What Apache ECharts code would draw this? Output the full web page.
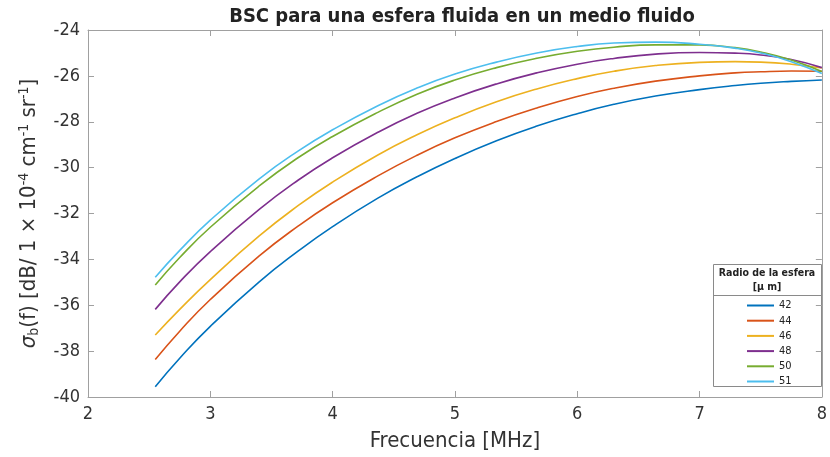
<!DOCTYPE html>
<html>
<head>
<meta charset="utf-8">
<script src="https://cdn.jsdelivr.net/npm/echarts@6/dist/echarts.min.js"></script>
<style>html,body{margin:0;padding:0;background:#fff}#c{width:830px;height:457px}</style>
</head>
<body>
<div id="c"></div>
<script>
const freq = [2.55, 2.75, 3.0, 3.4, 3.72, 4.0, 4.37, 4.69, 5.0, 5.34, 5.67, 6.0, 6.3, 6.64, 7.0, 7.29, 7.5, 7.75, 8.0];
const radios = ['42', '44', '46', '48', '50', '51'];
const r42 = [-39.55, -38.31, -36.92, -34.98, -33.63, -32.57, -31.33, -30.4, -29.6, -28.83, -28.19, -27.65, -27.24, -26.88, -26.6, -26.42, -26.32, -26.24, -26.18];
const r44 = [-38.37, -37.13, -35.75, -33.85, -32.54, -31.53, -30.36, -29.46, -28.7, -27.99, -27.4, -26.9, -26.54, -26.23, -26.0, -25.87, -25.82, -25.79, -25.8];
const r46 = [-37.3, -36.18, -34.88, -32.98, -31.65, -30.63, -29.45, -28.57, -27.83, -27.13, -26.57, -26.12, -25.8, -25.55, -25.41, -25.38, -25.4, -25.49, -25.66];
const r48 = [-36.18, -34.98, -33.66, -31.82, -30.54, -29.57, -28.46, -27.63, -26.96, -26.35, -25.87, -25.49, -25.24, -25.05, -24.98, -25.01, -25.09, -25.29, -25.64];
const r50 = [-35.12, -33.92, -32.6, -30.8, -29.56, -28.64, -27.59, -26.8, -26.18, -25.64, -25.23, -24.93, -24.75, -24.65, -24.65, -24.77, -24.96, -25.31, -25.81];
const r51 = [-34.78, -33.61, -32.29, -30.49, -29.27, -28.35, -27.3, -26.53, -25.92, -25.4, -25.0, -24.72, -24.57, -24.53, -24.62, -24.79, -25.0, -25.38, -25.9];
const values = [r42, r44, r46, r48, r50, r51];
const colors = ['#0072BD', '#D95319', '#EDB120', '#7E2F8E', '#77AC30', '#4DBEEE'];

const chart = echarts.init(document.getElementById('c'));
const font = 'DejaVu Sans Condensed';
const axisLine = {lineStyle: {color: '#a0a0a0', width: 1}};
const tickStyle = {inside: true, length: 6, lineStyle: {color: '#a0a0a0'}};
const tickLbl = {color: '#333', fontSize: 18, fontFamily: font};

chart.setOption({
  animation: false,
  title: {
    text: 'BSC para una esfera fluida en un medio fluido',
    left: 457, top: 2, textAlign: 'center',
    textStyle: {fontSize: 20, fontWeight: 'bold', color: '#222', fontFamily: font}
  },
  grid: {left: 88, right: 1, top: 30, bottom: 60},
  xAxis: [{
    type: 'value', min: 2, max: 8, interval: 1,
    axisLine: axisLine, splitLine: {show: false}, axisTick: tickStyle,
    axisLabel: Object.assign({margin: 8}, tickLbl),
    name: 'Frecuencia [MHz]', nameLocation: 'middle', nameGap: 33,
    nameTextStyle: {fontSize: 22, color: '#333', fontFamily: font}
  }, {
    type: 'value', position: 'top', min: 2, max: 8, interval: 1,
    axisLine: axisLine, splitLine: {show: false}, axisTick: tickStyle,
    axisLabel: {show: false}
  }],
  yAxis: [{
    type: 'value', min: -40, max: -24, interval: 2,
    axisLine: axisLine, splitLine: {show: false}, axisTick: tickStyle,
    axisLabel: Object.assign({margin: 8}, tickLbl),
    name: '{s|σ}{sub|b}{n|(f) [dB/ 1 × 10}{sup|-4}{n| cm}{sup|-1}{n| sr}{sup|-1}{n|]}',
    nameLocation: 'middle', nameGap: 47, nameRotate: 90,
    nameTextStyle: {
      color: '#333', fontFamily: font, fontSize: 22,
      rich: {
        s: {fontSize: 22, fontStyle: 'italic', color: '#333', fontFamily: font},
        n: {fontSize: 22, color: '#333', fontFamily: font},
        sub: {fontSize: 14, color: '#333', fontFamily: font, verticalAlign: 'bottom', padding: [10, 0, 0, 0]},
        sup: {fontSize: 14, color: '#333', fontFamily: font, verticalAlign: 'top', padding: [0, 0, 10, 0]}
      }
    }
  }, {
    type: 'value', position: 'right', min: -40, max: -24, interval: 2,
    axisLine: axisLine, splitLine: {show: false}, axisTick: tickStyle,
    axisLabel: {show: false}
  }],
  legend: {
    orient: 'vertical', left: 747, top: 300, padding: 0,
    icon: 'rect', itemWidth: 27, itemHeight: 2, itemGap: 4.2,
    textStyle: {fontSize: 11, lineHeight: 10.6, color: '#222', fontFamily: font},
    data: radios
  },
  graphic: [
    {type: 'rect', shape: {x: 713.5, y: 264.5, width: 108, height: 122}, style: {fill: '#fff', stroke: '#8a8a8a', lineWidth: 1}, z: 0},
    {type: 'line', shape: {x1: 713.5, y1: 295.5, x2: 821.5, y2: 295.5}, style: {stroke: '#8a8a8a', lineWidth: 1}, z: 1},
    {type: 'text', x: 767, y: 273, style: {text: 'Radio de la esfera', fontSize: 10.5, fontWeight: 'bold', fill: '#222', fontFamily: font, textAlign: 'center', textVerticalAlign: 'middle'}, z: 1},
    {type: 'text', x: 767, y: 287, style: {text: '[μ m]', fontSize: 10.5, fontWeight: 'bold', fill: '#222', fontFamily: font, textAlign: 'center', textVerticalAlign: 'middle'}, z: 1}
  ],
  series: values.map((v, i) => ({
    name: radios[i], type: 'line', smooth: true, symbol: 'none',
    data: freq.map((f, j) => [f, v[j]]),
    lineStyle: {color: colors[i], width: 1.6},
    itemStyle: {color: colors[i]},
    z: 3
  }))
});
</script>
</body>
</html>
